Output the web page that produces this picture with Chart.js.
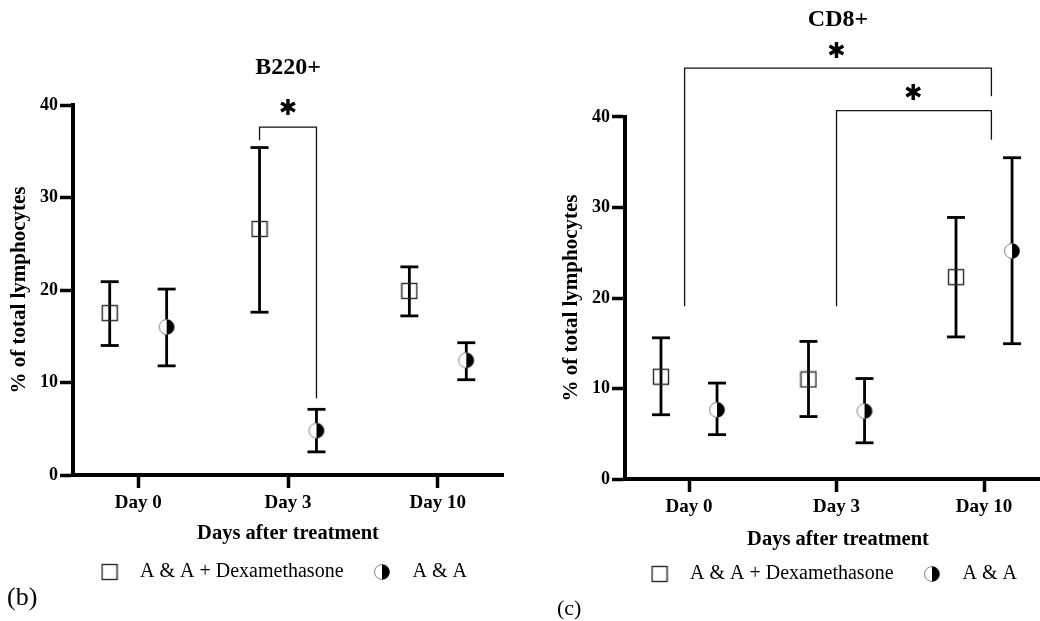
<!DOCTYPE html>
<html>
<head>
<meta charset="utf-8">
<title>B220+ and CD8+ lymphocytes</title>
<script src="https://cdn.jsdelivr.net/npm/chart.js@4.4.0/dist/chart.umd.min.js"></script>
<style>
    body { margin: 0; background: #fff; width: 1040px; height: 621px; overflow: hidden; position: relative; }
    canvas { position: absolute; top: 0; }
    #b220Chart { left: 0; }
    #cd8Chart { left: 520px; }
    .tag { position: absolute; font-family: "Liberation Serif", "Times New Roman", serif; line-height: 1; color: #000; }
</style>
</head>
<body>
<canvas id="b220Chart" width="520" height="621"></canvas>
<canvas id="cd8Chart" width="556" height="621"></canvas>
<div class="tag" style="left:7px; top:584px; font-size:26px;">(b)</div>
<div class="tag" style="left:557px; top:597px; font-size:22px;">(c)</div>

<script>
// Shared categories
const days = ['Day 0', 'Day 3', 'Day 10'];
const dayPos = [0, 1, 2];
const yTicks = [0, 10, 20, 30, 40];
const groupNames = ['A & A + Dexamethasone', 'A & A'];
const groupOffset = [-0.19, 0.19];

// B220+ (mean, lower and upper end of error bar)
const b220DexMean = [17.5, 26.6, 19.9];
const b220DexLow = [14.0, 17.6, 17.2];
const b220DexHigh = [20.9, 35.4, 22.5];
const b220AAMean = [16.0, 4.8, 12.4];
const b220AALow = [11.8, 2.5, 10.3];
const b220AAHigh = [20.1, 7.1, 14.3];

// CD8+
const cd8DexMean = [11.3, 11.0, 22.3];
const cd8DexLow = [7.1, 6.9, 15.7];
const cd8DexHigh = [15.6, 15.2, 28.9];
const cd8AAMean = [7.65, 7.5, 25.2];
const cd8AALow = [4.9, 4.0, 14.95];
const cd8AAHigh = [10.6, 11.1, 35.5];

// Significance brackets: [x from, x to, bar level, left leg end, right leg end]
const b220Brackets = [[0.81, 1.19, 37.6, 36.2, 8.3]];
const b220Stars = [[1.0, 39.5]];
const cd8Brackets = [[-0.03, 2.05, 45.4, 19.1, 42.3], [1.0, 2.05, 40.7, 19.1, 37.5]];
const cd8Stars = [[1.0, 47.2], [1.52, 42.5]];

Chart.defaults.font.family = '"Liberation Serif", "Times New Roman", serif';
Chart.defaults.color = '#000';

// marker images
function squareMarker() {
    const c = document.createElement('canvas');
    c.width = 18; c.height = 18;
    const g = c.getContext('2d');
    g.strokeStyle = '#2a2a2a';
    g.lineWidth = 1.4;
    g.strokeRect(1.5, 1.5, 15, 15);
    return c;
}

function halfCircleMarker() {
    const c = document.createElement('canvas');
    c.width = 18; c.height = 18;
    const g = c.getContext('2d');
    g.beginPath();
    g.arc(9, 9, 7.5, 0, Math.PI * 2);
    g.fillStyle = '#fff';
    g.fill();
    g.strokeStyle = '#777';
    g.lineWidth = 0.9;
    g.stroke();
    g.beginPath();
    g.arc(9, 9, 7.6, -Math.PI / 2, Math.PI / 2);
    g.closePath();
    g.fillStyle = '#000';
    g.fill();
    return c;
}

const markers = [squareMarker(), halfCircleMarker()];

function points(mean, off) {
    return dayPos.map((d, i) => ({x: d + off, y: mean[i]}));
}

// each error bar is a short line; null breaks the line between days
function errorPoints(low, high, off) {
    const pts = [];
    dayPos.forEach((d, i) => {
        pts.push({x: d + off, y: low[i]}, {x: d + off, y: high[i]}, {x: d + off, y: null});
    });
    return pts;
}

function errorDataset(low, high, off) {
    return {
        type: 'line',
        data: errorPoints(low, high, off),
        showLine: true,
        spanGaps: false,
        borderColor: '#000',
        borderWidth: 2.8,
        pointStyle: 'line',
        pointRadius: 9,
        pointBorderWidth: 2.8,
        pointBorderColor: '#000',
        order: 2
    };
}

function markerDataset(i, mean) {
    return {
        label: groupNames[i],
        data: points(mean, groupOffset[i]),
        pointStyle: markers[i],
        pointRadius: 9,
        order: 0
    };
}

function bracketPlugin(brackets, stars) {
    return {
        id: 'brackets',
        afterDatasetsDraw(chart) {
            const {ctx, scales: {x, y}} = chart;
            ctx.save();
            ctx.strokeStyle = '#111';
            ctx.lineWidth = 1.3;
            brackets.forEach(b => {
                const x1 = x.getPixelForValue(b[0]);
                const x2 = x.getPixelForValue(b[1]);
                const top = y.getPixelForValue(b[2]);
                ctx.beginPath();
                ctx.moveTo(x1, y.getPixelForValue(b[3]));
                ctx.lineTo(x1, top);
                ctx.lineTo(x2, top);
                ctx.lineTo(x2, y.getPixelForValue(b[4]));
                ctx.stroke();
            });
            ctx.fillStyle = '#000';
            ctx.font = 'bold 22px "DejaVu Sans"';
            ctx.textAlign = 'center';
            ctx.textBaseline = 'middle';
            stars.forEach(s => ctx.fillText('\u2731', x.getPixelForValue(s[0]), y.getPixelForValue(s[1])));
            ctx.restore();
        }
    };
}

function buildChart(id, cfg) {
    const bold = size => ({family: '"Liberation Serif", "Times New Roman", serif', weight: 'bold', size: size});
    const scales = {
        x: {
            type: 'linear',
            position: 'bottom',
            min: cfg.xMin,
            max: cfg.xMax,
            afterBuildTicks: s => { s.ticks = dayPos.map(v => ({value: v})); },
            afterFit: s => { s.height = cfg.xHeight; },
            grid: {display: true, drawOnChartArea: false, drawTicks: true, tickLength: 13, tickWidth: 3.5, tickColor: '#000'},
            border: {display: true, color: '#000', width: 4},
            ticks: {callback: (v, i) => days[i], font: bold(19), padding: cfg.xTickPad, maxRotation: 0, autoSkip: false},
            title: {display: true, text: 'Days after treatment', font: bold(20.5), padding: {top: 0, bottom: cfg.xTitlePad}}
        },
        y: {
            type: 'linear',
            position: 'left',
            min: 0,
            max: 40,
            afterBuildTicks: s => { s.ticks = yTicks.map(v => ({value: v})); },
            afterFit: s => { s.width = cfg.yWidth; },
            grid: {display: true, drawOnChartArea: false, drawTicks: true, tickLength: 13, tickWidth: 3.5, tickColor: '#000'},
            border: {display: true, color: '#000', width: 4},
            ticks: {font: bold(18), padding: 2},
            title: {display: true, text: '% of total lymphocytes', font: bold(21), padding: {top: cfg.yTitlePad, bottom: 0}}
        }
    };
    if (cfg.rightGap) {
        // empty right axis only reserves room so the plot ends where the original does
        scales.y2 = {
            type: 'linear', position: 'right', display: true,
            grid: {display: false}, border: {display: false}, ticks: {display: false},
            afterFit: s => { s.width = cfg.rightGap; }
        };
    }

    return new Chart(document.getElementById(id), {
        type: 'scatter',
        data: {
            datasets: [
                markerDataset(0, cfg.dexMean),
                markerDataset(1, cfg.aaMean),
                errorDataset(cfg.dexLow, cfg.dexHigh, groupOffset[0]),
                errorDataset(cfg.aaLow, cfg.aaHigh, groupOffset[1])
            ]
        },
        options: {
            responsive: false,
            animation: false,
            events: [],
            layout: {padding: cfg.padding},
            scales: scales,
            plugins: {
                title: {
                    display: true, text: cfg.title, fullSize: false,
                    font: bold(24), padding: cfg.titlePad
                },
                legend: {
                    display: true,
                    position: 'bottom',
                    labels: {
                        usePointStyle: true,
                        pointStyleWidth: 41,
                        padding: 18,
                        font: {size: 20},
                        filter: item => item.datasetIndex < 2
                    }
                },
                tooltip: {enabled: false}
            }
        },
        plugins: [bracketPlugin(cfg.brackets, cfg.stars)]
    });
}

buildChart('b220Chart', {
    title: 'B220+',
    dexMean: b220DexMean, dexLow: b220DexLow, dexHigh: b220DexHigh,
    aaMean: b220AAMean, aaLow: b220AALow, aaHigh: b220AAHigh,
    brackets: b220Brackets, stars: b220Stars,
    xMin: -0.435, xMax: 2.435,
    padding: {left: 36, right: 0, top: 0, bottom: 29},
    titlePad: {top: 53.6, bottom: 22.6},
    yWidth: 37, yTitlePad: -28.6, rightGap: 17,
    xHeight: 69, xTickPad: 4, xTitlePad: -1.9
});

buildChart('cd8Chart', {
    title: 'CD8+',
    dexMean: cd8DexMean, dexLow: cd8DexLow, dexHigh: cd8DexHigh,
    aaMean: cd8AAMean, aaLow: cd8AALow, aaHigh: cd8AAHigh,
    brackets: cd8Brackets, stars: cd8Stars,
    xMin: -0.434, xMax: 2.454,
    padding: {left: 60, right: 0, top: 0, bottom: 27},
    titlePad: {top: 5.6, bottom: 82.6},
    yWidth: 45, yTitlePad: -20.6, rightGap: 25,
    xHeight: 67, xTickPad: 4, xTitlePad: -6.3
});
</script>
</body>
</html>
